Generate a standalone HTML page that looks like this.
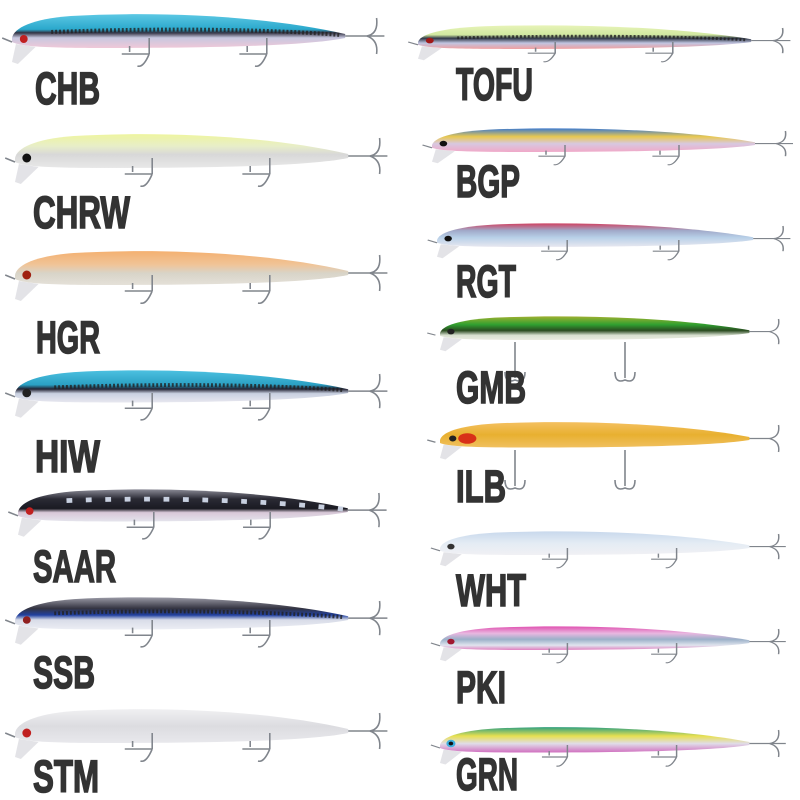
<!DOCTYPE html>
<html><head><meta charset="utf-8"><style>
html,body{margin:0;padding:0;background:#fff;}
svg{display:block;}
.l{font-family:"Liberation Sans Narrow","Liberation Sans",sans-serif;font-weight:bold;font-size:45px;fill:#333;stroke:#333;stroke-width:1.6;}
.hk{fill:none;stroke:#80858c;stroke-width:1.6;}
.dash{fill:none;stroke:#222;stroke-width:4;stroke-dasharray:2 2;opacity:0.8;}
</style></head><body>
<svg width="800" height="800" viewBox="0 0 800 800" xmlns="http://www.w3.org/2000/svg">
<defs>
<linearGradient id="gCHB" x1="0" y1="0" x2="0" y2="1"><stop offset="0" stop-color="#5cc8e4"/><stop offset="0.45" stop-color="#2aa8cc"/><stop offset="0.55" stop-color="#334"/><stop offset="0.7" stop-color="#c8c8e0"/><stop offset="1" stop-color="#f0c8d8"/></linearGradient>
<linearGradient id="gCHRW" x1="0" y1="0" x2="0" y2="1"><stop offset="0" stop-color="#eef5a0"/><stop offset="0.35" stop-color="#e8eec8"/><stop offset="0.6" stop-color="#d8d8d8"/><stop offset="1" stop-color="#e8e8e8"/></linearGradient>
<linearGradient id="gHGR" x1="0" y1="0" x2="0" y2="1"><stop offset="0" stop-color="#f4b070"/><stop offset="0.4" stop-color="#f0c498"/><stop offset="0.65" stop-color="#d8d4c8"/><stop offset="1" stop-color="#e4e0d8"/></linearGradient>
<linearGradient id="gHIW" x1="0" y1="0" x2="0" y2="1"><stop offset="0" stop-color="#4cc0e0"/><stop offset="0.45" stop-color="#2aa0c4"/><stop offset="0.58" stop-color="#223"/><stop offset="0.72" stop-color="#c8d0e0"/><stop offset="1" stop-color="#e8e8f0"/></linearGradient>
<linearGradient id="gSAAR" x1="0" y1="0" x2="0" y2="1"><stop offset="0" stop-color="#8a8a96"/><stop offset="0.3" stop-color="#2a2a34"/><stop offset="0.6" stop-color="#1a1a22"/><stop offset="0.72" stop-color="#d8c8d8"/><stop offset="1" stop-color="#e4e4ec"/></linearGradient>
<linearGradient id="gSSB" x1="0" y1="0" x2="0" y2="1"><stop offset="0" stop-color="#9a9aa6"/><stop offset="0.35" stop-color="#333340"/><stop offset="0.55" stop-color="#2040a0"/><stop offset="0.7" stop-color="#d8dce8"/><stop offset="1" stop-color="#eceef4"/></linearGradient>
<linearGradient id="gSTM" x1="0" y1="0" x2="0" y2="1"><stop offset="0" stop-color="#f0f0f2"/><stop offset="0.5" stop-color="#dcdce0"/><stop offset="1" stop-color="#e8e8ec"/></linearGradient>
<linearGradient id="gTOFU" x1="0" y1="0" x2="0" y2="1"><stop offset="0" stop-color="#e8f4b8"/><stop offset="0.4" stop-color="#d0e8a0"/><stop offset="0.55" stop-color="#303848"/><stop offset="0.75" stop-color="#c0c4e0"/><stop offset="1" stop-color="#f0a0a0"/></linearGradient>
<linearGradient id="gBGP" x1="0" y1="0" x2="0" y2="1"><stop offset="0" stop-color="#3a78d0"/><stop offset="0.35" stop-color="#e8c850"/><stop offset="0.65" stop-color="#d8c8e0"/><stop offset="1" stop-color="#f0a8c8"/></linearGradient>
<linearGradient id="gRGT" x1="0" y1="0" x2="0" y2="1"><stop offset="0" stop-color="#d04060"/><stop offset="0.3" stop-color="#a0a8c8"/><stop offset="0.6" stop-color="#b8d0e8"/><stop offset="1" stop-color="#e8e8f0"/></linearGradient>
<linearGradient id="gGMB" x1="0" y1="0" x2="0" y2="1"><stop offset="0" stop-color="#a0b030"/><stop offset="0.35" stop-color="#30a030"/><stop offset="0.6" stop-color="#2a4a20"/><stop offset="0.8" stop-color="#d8e0d0"/><stop offset="1" stop-color="#eaeae0"/></linearGradient>
<linearGradient id="gILB" x1="0" y1="0" x2="0" y2="1"><stop offset="0" stop-color="#f4c060"/><stop offset="0.5" stop-color="#e8b030"/><stop offset="1" stop-color="#f0c060"/></linearGradient>
<linearGradient id="gWHT" x1="0" y1="0" x2="0" y2="1"><stop offset="0" stop-color="#c8d8ec"/><stop offset="0.5" stop-color="#e4ecf4"/><stop offset="1" stop-color="#f0f0f4"/></linearGradient>
<linearGradient id="gPKI" x1="0" y1="0" x2="0" y2="1"><stop offset="0" stop-color="#e050b0"/><stop offset="0.3" stop-color="#e8b8e0"/><stop offset="0.55" stop-color="#9ab0c8"/><stop offset="0.8" stop-color="#e0e4ee"/><stop offset="1" stop-color="#e080c0"/></linearGradient>
<linearGradient id="gGRN" x1="0" y1="0" x2="0" y2="1"><stop offset="0" stop-color="#30a080"/><stop offset="0.35" stop-color="#e8e050"/><stop offset="0.65" stop-color="#e0dce8"/><stop offset="1" stop-color="#d070c0"/></linearGradient>
<g id="hooks">
<path class="hk" d="M0,4 L-10,0"/>
<path class="hk" d="M120,8 L120,14 M112,16 L140,16 M140,16 Q134,30 128,28 M140,16 L140,0"/>
<path class="hk" d="M240,8 L240,14 M232,16 L260,16 M260,16 Q254,30 248,28 M260,16 L260,0"/>
<path class="hk" d="M340,-2 L362,-2 M362,-2 Q374,-4 372,-20 M362,-2 Q374,2 372,16 M360,-2 L380,-2"/>
</g>
<path id="body" d="M0,0 C2,-10 20,-19 60,-22 C150,-27 260,-22 340,-4 L340,0 C300,8 200,10 100,10 C40,10 10,9 0,4 Z"/>
<path id="lip" d="M4,6 L0,24 L6,26 L24,9 Z" fill="#e0e0e4" opacity="0.9"/>
</defs>

<!-- Left column -->
<g transform="translate(12,38) scale(0.98,1)"><use href="#lip"/><use href="#body" fill="url(#gCHB)"/><path class="dash" d="M40,-6 C150,-10 260,-9 335,-3"/><circle cx="12" cy="1" r="4" fill="#c02020"/><use href="#hooks"/></g>
<g transform="translate(15,158) scale(0.98,1)"><use href="#lip"/><use href="#body" fill="url(#gCHRW)"/><circle cx="12" cy="0" r="4.5" fill="#111"/><use href="#hooks"/></g>
<g transform="translate(15,275) scale(0.98,1)"><use href="#lip"/><use href="#body" fill="url(#gHGR)"/><circle cx="12" cy="0" r="4.5" fill="#a02010"/><use href="#hooks"/></g>
<g transform="translate(15,393) scale(0.98,0.95)"><use href="#lip"/><use href="#body" fill="url(#gHIW)"/><path class="dash" d="M40,-6 C150,-10 260,-9 335,-3"/><circle cx="12" cy="0" r="4.5" fill="#222"/><use href="#hooks"/></g>
<g transform="translate(18,512) scale(0.97,0.95)"><use href="#lip"/><use href="#body" fill="url(#gSAAR)"/><path d="M50,-12 C150,-16 260,-12 335,-3" fill="none" stroke="#c8d0e0" stroke-width="5" stroke-dasharray="6 14"/><circle cx="12" cy="-1" r="4" fill="#c02020"/><use href="#hooks"/></g>
<g transform="translate(15,620) scale(0.98,0.95)"><use href="#lip"/><use href="#body" fill="url(#gSSB)"/><path class="dash" d="M40,-7 C150,-11 260,-9 335,-3"/><circle cx="12" cy="0" r="4" fill="#902020"/><use href="#hooks"/></g>
<g transform="translate(15,733) scale(0.98,1)"><use href="#lip"/><use href="#body" fill="url(#gSTM)"/><circle cx="12" cy="0" r="4.5" fill="#c02020"/><use href="#hooks"/></g>

<!-- Right column -->
<g transform="translate(418,42) scale(0.98,0.7)"><use href="#lip"/><use href="#body" fill="url(#gTOFU)"/><path class="dash" d="M40,-6 C150,-10 260,-9 335,-3"/><circle cx="12" cy="-2" r="4" fill="#a01818"/><use href="#hooks"/></g>
<g transform="translate(432,145) scale(0.95,0.7)"><use href="#lip"/><use href="#body" fill="url(#gBGP)"/><circle cx="12" cy="-2" r="4" fill="#111"/><use href="#hooks"/></g>
<g transform="translate(437,240) scale(0.93,0.7)"><use href="#lip"/><use href="#body" fill="url(#gRGT)"/><circle cx="12" cy="-2" r="4" fill="#111"/><use href="#hooks"/></g>
<g transform="translate(440,333) scale(0.91,0.7)"><use href="#lip"/><use href="#body" fill="url(#gGMB)"/><circle cx="12" cy="-2" r="4" fill="#222"/>
<path class="hk" d="M-5,3 L-14,0"/><path class="hk" d="M340,-2 L362,-2 M362,-2 Q374,-4 372,-20 M362,-2 Q374,2 372,16"/></g>
<path class="hk" d="M515,342 L515,378 M505,372 Q505,384 515,380 Q525,384 525,372"/>
<path class="hk" d="M625,342 L625,378 M615,372 Q615,384 625,380 Q635,384 635,372"/>
<g transform="translate(440,440) scale(0.91,0.75)"><use href="#lip"/><use href="#body" fill="url(#gILB)"/><ellipse cx="30" cy="-2" rx="10" ry="7" fill="#d83018"/><circle cx="14" cy="-2" r="4" fill="#222"/>
<path class="hk" d="M-5,3 L-14,0"/><path class="hk" d="M340,-2 L362,-2 M362,-2 Q374,-4 372,-20 M362,-2 Q374,2 372,16"/></g>
<path class="hk" d="M515,450 L515,486 M505,480 Q505,492 515,488 Q525,492 525,480"/>
<path class="hk" d="M625,450 L625,486 M615,480 Q615,492 625,488 Q635,492 635,480"/>
<g transform="translate(440,548) scale(0.91,0.7)"><use href="#lip"/><use href="#body" fill="url(#gWHT)"/><circle cx="12" cy="-2" r="4" fill="#333"/><use href="#hooks"/></g>
<g transform="translate(440,643) scale(0.91,0.7)"><use href="#lip"/><use href="#body" fill="url(#gPKI)"/><circle cx="12" cy="-2" r="4" fill="#a01830"/><use href="#hooks"/></g>
<g transform="translate(440,745) scale(0.91,0.75)"><use href="#lip"/><use href="#body" fill="url(#gGRN)"/><circle cx="12" cy="-2" r="5" fill="#40b0e0"/><circle cx="12" cy="-2" r="2.5" fill="#111"/><use href="#hooks"/></g>

<!-- Labels -->
<text class="l" x="35" y="104" textLength="65" lengthAdjust="spacingAndGlyphs">CHB</text>
<text class="l" x="33" y="228" textLength="97" lengthAdjust="spacingAndGlyphs">CHRW</text>
<text class="l" x="36" y="353" textLength="64" lengthAdjust="spacingAndGlyphs">HGR</text>
<text class="l" x="35" y="472" textLength="65" lengthAdjust="spacingAndGlyphs">HIW</text>
<text class="l" x="33" y="582" textLength="83" lengthAdjust="spacingAndGlyphs">SAAR</text>
<text class="l" x="33" y="688" textLength="62" lengthAdjust="spacingAndGlyphs">SSB</text>
<text class="l" x="33" y="792" textLength="66" lengthAdjust="spacingAndGlyphs">STM</text>
<text class="l" x="456" y="100" textLength="77" lengthAdjust="spacingAndGlyphs">TOFU</text>
<text class="l" x="456" y="197" textLength="64" lengthAdjust="spacingAndGlyphs">BGP</text>
<text class="l" x="456" y="297" textLength="60" lengthAdjust="spacingAndGlyphs">RGT</text>
<text class="l" x="456" y="403" textLength="70" lengthAdjust="spacingAndGlyphs">GMB</text>
<text class="l" x="456" y="502" textLength="50" lengthAdjust="spacingAndGlyphs">ILB</text>
<text class="l" x="456" y="606" textLength="70" lengthAdjust="spacingAndGlyphs">WHT</text>
<text class="l" x="456" y="703" textLength="50" lengthAdjust="spacingAndGlyphs">PKI</text>
<text class="l" x="456" y="790" textLength="62" lengthAdjust="spacingAndGlyphs">GRN</text>
</svg>
</body></html>
